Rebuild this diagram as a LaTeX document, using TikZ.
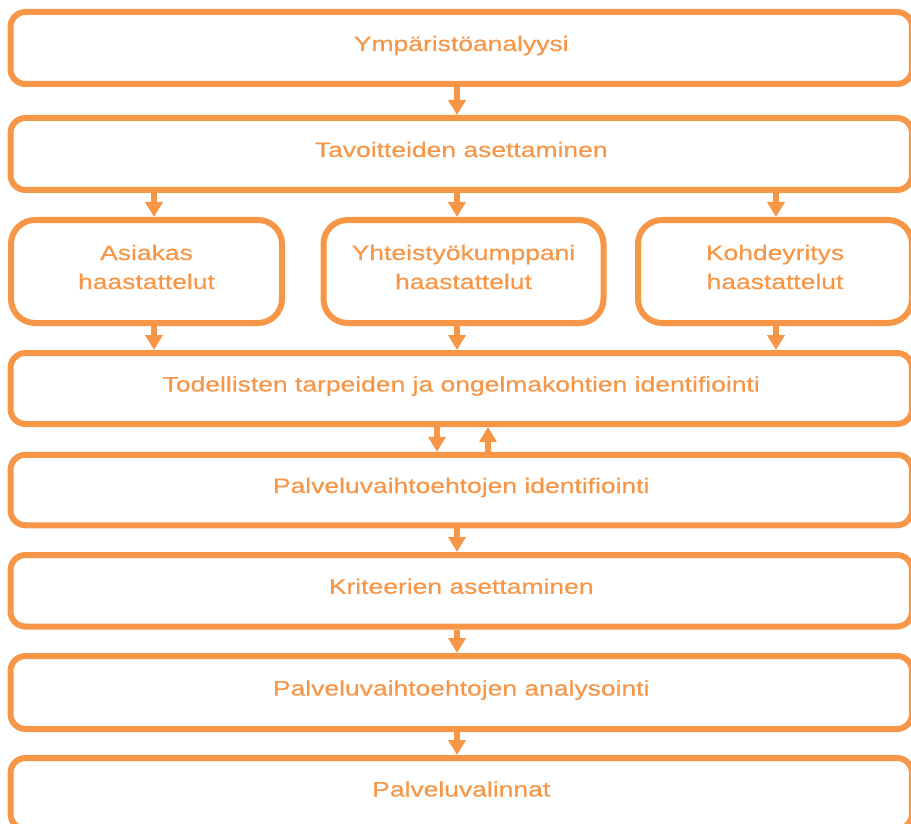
\documentclass[tikz,border=0pt]{standalone}
\usepackage{fontspec}
\setmainfont{Liberation Sans}[FakeStretch=1.26, FakeBold=0.4]
\usetikzlibrary{arrows.meta}
\definecolor{flow}{HTML}{F79646}
\begin{document}
\begin{tikzpicture}[x=1pt,y=-1pt,
  box/.style={draw=flow, line width=6pt, rounded corners=15pt, fill=white,
    text=flow, align=center, inner sep=0pt,
    font=\fontsize{21}{29}\selectfont},
  wide/.style={box, minimum width=901.5pt, text height=10pt, text depth=4pt},
  small/.style={box, rounded corners=24pt, minimum height=103pt,
    text height=41pt, text depth=6pt},
  arr/.style={draw=flow, line width=6pt,
    -{Triangle[width=17pt,length=15pt]}}]
\useasboundingbox (0,0) rectangle (911,824);
\clip (0,0) rectangle (911,824);
% main column of steps
\node[wide, minimum height=72pt]   (b1) at (461.25,48)    {Ympäristöanalyysi};
\node[wide, minimum height=72pt]   (b2) at (461.25,154)   {Tavoitteiden asettaminen};
\node[small, minimum width=271pt]  (s1) at (146.5,271.5)  {Asiakas\\haastattelut};
\node[small, minimum width=280pt]  (s2) at (463.5,271.5)  {Yhteistyökumppani\\haastattelut};
\node[small, minimum width=274pt]  (s3) at (775,271.5)    {Kohdeyritys\\haastattelut};
\node[wide, minimum height=71pt]   (b4) at (461.25,388.5) {Todellisten tarpeiden ja ongelmakohtien identifiointi};
\node[wide, minimum height=70.5pt] (b5) at (461.25,490)   {Palveluvaihtoehtojen identifiointi};
\node[wide, minimum height=71.5pt] (b6) at (461.25,590.75){Kriteerien asettaminen};
\node[wide, minimum height=73pt]   (b7) at (461.25,692.5) {Palveluvaihtoehtojen analysointi};
\node[wide, minimum height=71pt]   (b8) at (461.25,793.5) {Palveluvalinnat};
% arrow columns
\coordinate (cL) at (154,0);
\coordinate (cM) at (457,0);
\coordinate (cR) at (776,0);
\coordinate (cD) at (437,0);
\coordinate (cU) at (488,0);
% connectors
\draw[arr] (b1.south -| cM) -- (b2.north -| cM);
\draw[arr] (b2.south -| cL) -- (s1.north -| cL);
\draw[arr] (b2.south -| cM) -- (s2.north -| cM);
\draw[arr] (b2.south -| cR) -- (s3.north -| cR);
\draw[arr] (s1.south -| cL) -- (b4.north -| cL);
\draw[arr] (s2.south -| cM) -- (b4.north -| cM);
\draw[arr] (s3.south -| cR) -- (b4.north -| cR);
\draw[arr] (b4.south -| cD) -- (b5.north -| cD);
\draw[arr] (b5.north -| cU) -- (b4.south -| cU);
\draw[arr] (b5.south -| cM) -- (b6.north -| cM);
\draw[arr] (b6.south -| cM) -- (b7.north -| cM);
\draw[arr] (b7.south -| cM) -- (b8.north -| cM);
\end{tikzpicture}
\end{document}
